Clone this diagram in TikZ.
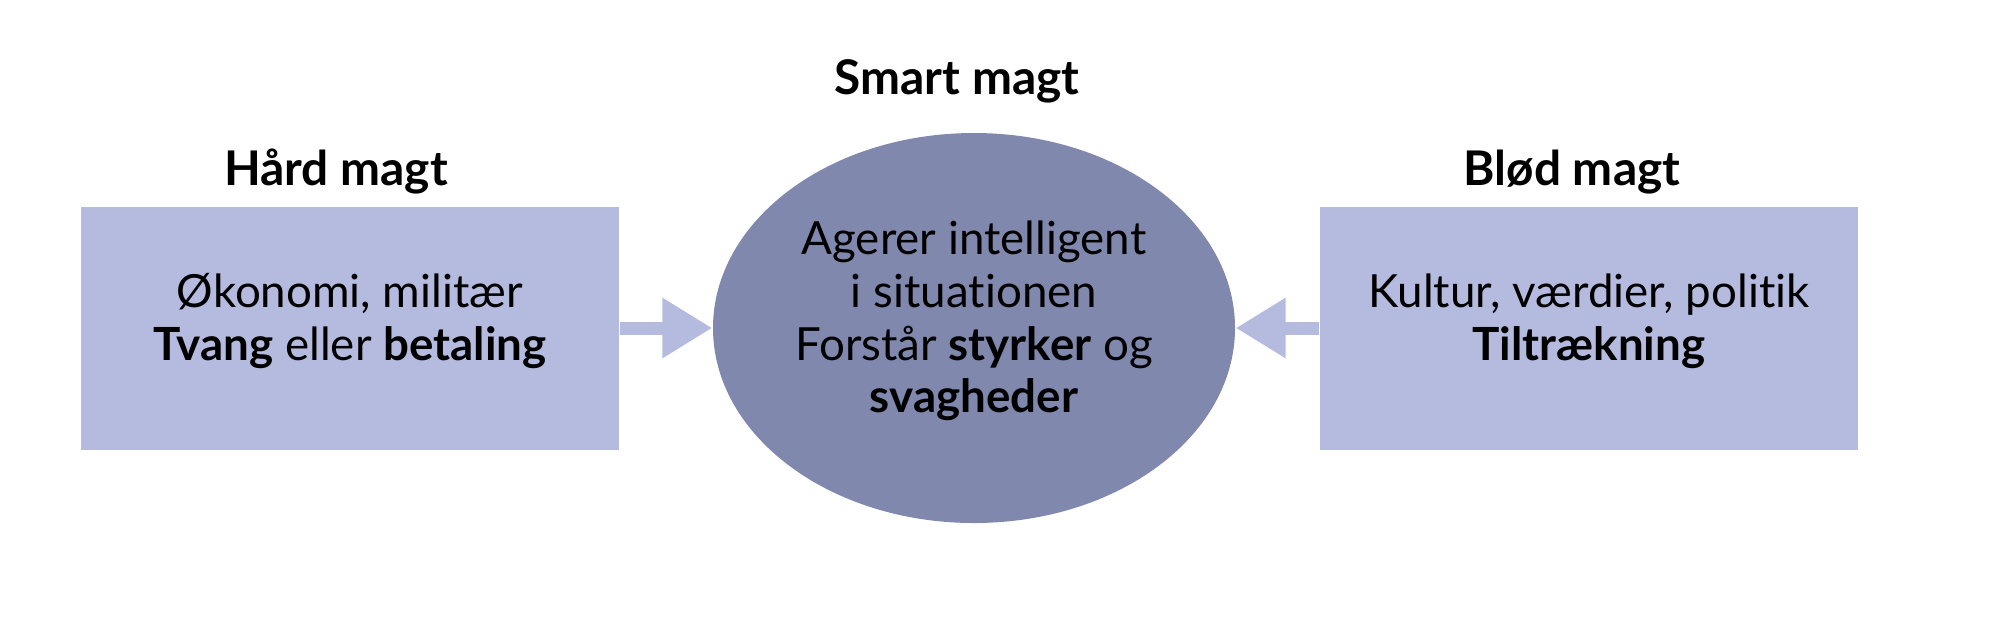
\documentclass[tikz,border=0pt]{standalone}
\usepackage{fontspec}
\setmainfont{Lato}[Ligatures=NoCommon]
\usepackage{tikz}
\usetikzlibrary{arrows.meta}
\usetikzlibrary{shapes.geometric}
\usetikzlibrary{positioning}
\definecolor{lysblaa}{HTML}{B5BBDE}
\definecolor{moerkblaa}{HTML}{8088AD}

\begin{document}
\begin{tikzpicture}[
	every node/.style={font=\fontsize{13}{15}\selectfont},
	boks/.style={fill=lysblaa,minimum width=5.38cm,minimum height=2.43cm,align=center,inner sep=0pt,text depth=0.22cm},
	midte/.style={ellipse,fill=moerkblaa,minimum width=5.22cm,minimum height=3.9cm,align=center,inner sep=0pt,text depth=0.22cm},
	titel/.style={anchor=base,font=\fontsize{13.6}{16.5}\selectfont\bfseries},
	pil/.style={lysblaa,line width=0.13cm,-{Triangle[length=0.5cm,width=0.57cm]}}]
	\useasboundingbox (0,0) rectangle (20,-6.28);
	% de tre felter
	\node[boks] (haard) at (3.5,-3.28) {Økonomi, militær\\\textbf{Tvang} eller \textbf{betaling}};
	\node[boks] (bloed) at (15.89,-3.28) {Kultur, værdier, politik\\\textbf{Tiltrækning}};
	\node[midte] (smart) at (9.74,-3.28) {Agerer intelligent\\i situationen\\Forstår \textbf{styrker} og\\\textbf{svagheder}};
	% overskrifter
	\node[titel] (haardtitel) at (3.36,-1.855) {Hård magt};
	\node[titel] (bloedtitel) at (15.72,-1.855) {Blød magt};
	\node[titel] (smarttitel) at (9.57,-0.94) {Smart magt};
	% pile ind mod midten
	\draw[pil] (haard.east) -- (smart.west);
	\draw[pil] (bloed.west) -- (smart.east);
\end{tikzpicture}
\end{document}
